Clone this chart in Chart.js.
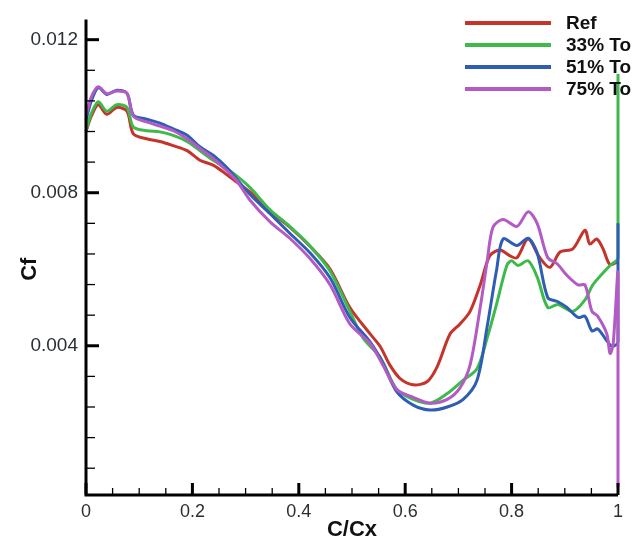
<!DOCTYPE html>
<html>
<head>
<meta charset="utf-8">
<script src="https://cdn.jsdelivr.net/npm/chart.js@4/dist/chart.umd.min.js"></script>
<style>
html,body{margin:0;padding:0;background:#fff;}
#wrap{width:637px;height:545px;}
</style>
</head>
<body>
<div id="wrap"><canvas id="c" width="637" height="545"></canvas></div>
<script>
// ---- data ----
const seriesLabels = ["Ref", "33% To", "51% To", "75% To"];
const seriesColors = ["#c4342b", "#3dba4b", "#2e5db3", "#b35ac4"];

const refX = [0, 0.01, 0.023, 0.039, 0.058, 0.077, 0.089, 0.114, 0.139, 0.164, 0.19, 0.214, 0.239, 0.265, 0.284, 0.31, 0.346, 0.383, 0.421, 0.459, 0.496, 0.534, 0.553, 0.571, 0.59, 0.615, 0.641, 0.66, 0.684, 0.703, 0.722, 0.741, 0.759, 0.778, 0.797, 0.81, 0.831, 0.853, 0.872, 0.891, 0.915, 0.938, 0.947, 0.96, 0.972, 0.985, 1];
const refY = [0.0096, 0.0100, 0.0103, 0.01005, 0.01023, 0.01013, 0.00954, 0.00941, 0.00934, 0.00923, 0.0091, 0.00885, 0.00872, 0.00847, 0.00827, 0.0080, 0.0075, 0.0071, 0.0066, 0.0060, 0.0050, 0.00431, 0.00398, 0.0035, 0.00315, 0.00298, 0.00306, 0.00345, 0.0043, 0.00457, 0.0049, 0.00559, 0.00635, 0.0065, 0.00635, 0.0063, 0.00679, 0.0063, 0.00605, 0.00645, 0.00653, 0.00702, 0.00666, 0.00679, 0.00653, 0.00612, 0.0062];

const to33X = [0, 0.008, 0.023, 0.039, 0.058, 0.077, 0.089, 0.114, 0.139, 0.164, 0.19, 0.214, 0.239, 0.271, 0.308, 0.346, 0.383, 0.421, 0.459, 0.496, 0.521, 0.553, 0.584, 0.615, 0.647, 0.679, 0.709, 0.735, 0.754, 0.772, 0.791, 0.8, 0.812, 0.831, 0.848, 0.868, 0.887, 0.915, 0.938, 0.953, 0.985, 1, 1];
const to33Y = [0.0096, 0.0100, 0.01038, 0.01013, 0.0103, 0.01023, 0.00972, 0.00962, 0.00959, 0.0095, 0.00934, 0.0091, 0.00885, 0.00857, 0.00814, 0.00755, 0.00712, 0.00661, 0.00595, 0.0049, 0.0042, 0.0037, 0.00286, 0.0026, 0.0025, 0.00275, 0.0031, 0.0034, 0.0042, 0.0051, 0.0061, 0.00622, 0.0061, 0.00622, 0.0058, 0.0050, 0.00508, 0.0049, 0.0052, 0.0056, 0.0061, 0.0063, 0.0111];

const to51X = [0, 0.01, 0.023, 0.039, 0.058, 0.077, 0.089, 0.114, 0.139, 0.164, 0.19, 0.214, 0.239, 0.265, 0.308, 0.346, 0.383, 0.421, 0.459, 0.496, 0.534, 0.558, 0.584, 0.615, 0.647, 0.679, 0.709, 0.735, 0.754, 0.772, 0.784, 0.81, 0.831, 0.848, 0.868, 0.887, 0.904, 0.925, 0.938, 0.951, 0.962, 0.979, 0.989, 1, 1];
const to51Y = [0.0099, 0.0104, 0.01075, 0.01057, 0.01068, 0.0106, 0.01003, 0.00992, 0.00982, 0.00967, 0.0095, 0.0092, 0.00898, 0.00865, 0.00796, 0.00745, 0.00694, 0.00643, 0.00577, 0.00474, 0.0041, 0.00355, 0.0028, 0.00245, 0.00232, 0.0024, 0.0026, 0.0031, 0.0045, 0.0060, 0.00679, 0.00662, 0.00681, 0.00643, 0.00526, 0.00515, 0.0050, 0.00474, 0.00477, 0.00439, 0.00444, 0.00413, 0.00398, 0.0041, 0.0072];

const to75X = [0, 0.01, 0.023, 0.039, 0.058, 0.077, 0.089, 0.114, 0.139, 0.164, 0.19, 0.214, 0.239, 0.265, 0.284, 0.308, 0.346, 0.383, 0.421, 0.459, 0.496, 0.534, 0.558, 0.584, 0.615, 0.647, 0.679, 0.703, 0.722, 0.741, 0.754, 0.765, 0.784, 0.81, 0.831, 0.848, 0.868, 0.885, 0.904, 0.925, 0.938, 0.951, 0.962, 0.979, 0.985, 0.991, 1, 1];
const to75Y = [0.0100, 0.0105, 0.01077, 0.01059, 0.01066, 0.0106, 0.0100, 0.00985, 0.00974, 0.00962, 0.00941, 0.00916, 0.0089, 0.00857, 0.0083, 0.00781, 0.00724, 0.00681, 0.00628, 0.00559, 0.00457, 0.00406, 0.0035, 0.00286, 0.00265, 0.0025, 0.0026, 0.0029, 0.0035, 0.0050, 0.0062, 0.0071, 0.0073, 0.00712, 0.0075, 0.0072, 0.0063, 0.00615, 0.00584, 0.00559, 0.00559, 0.0049, 0.00477, 0.00431, 0.0038, 0.00406, 0.0059, 0.0003];

const xTickValues = [0, 0.2, 0.4, 0.6, 0.8, 1];
const yTickValues = [0.004, 0.008, 0.012];
const xTitle = "C/Cx";
const yTitle = "Cf";

// ---- build ----
const seriesX = [refX, to33X, to51X, to75X];
const seriesY = [refY, to33Y, to51Y, to75Y];
const FONT = '"Liberation Sans", Arial, Helvetica, sans-serif';

const datasets = seriesLabels.map((lab, i) => ({
  label: lab,
  data: seriesX[i].map((x, j) => ({x: x, y: seriesY[i][j]})),
  borderColor: seriesColors[i],
  backgroundColor: seriesColors[i],
  borderWidth: 3,
  pointRadius: 0,
  tension: 0.3,
  fill: false,
  clip: false,
  order: seriesLabels.length - i
}));

const axesPlugin = {
  id: 'axesPlugin',
  afterDatasetsDraw(chart) {
    const ctx = chart.ctx;
    const xs = chart.scales.x, ys = chart.scales.y;
    const ca = chart.chartArea;
    ctx.save();
    ctx.strokeStyle = '#000';
    ctx.lineCap = 'butt';
    // axis lines
    ctx.lineWidth = 3;
    ctx.beginPath();
    ctx.moveTo(ca.left, ca.top);
    ctx.lineTo(ca.left, ca.bottom);
    ctx.lineTo(ca.right, ca.bottom);
    ctx.stroke();
    // x ticks
    for (let i = 0; i <= 20; i++) {
      const v = i * 0.05;
      const major = i % 4 === 0;
      const px = xs.getPixelForValue(v);
      ctx.lineWidth = major ? 3 : 1.3;
      ctx.beginPath();
      ctx.moveTo(px, ca.bottom);
      ctx.lineTo(px, ca.bottom - (major ? 12 : 7));
      ctx.stroke();
    }
    // y ticks
    for (let i = 1; i <= 15; i++) {
      const v = i * 0.0008;
      const major = i % 5 === 0;
      const py = ys.getPixelForValue(v);
      ctx.lineWidth = major ? 3 : 1.3;
      ctx.beginPath();
      ctx.moveTo(ca.left, py);
      ctx.lineTo(ca.left + (major ? 13 : 9), py);
      ctx.stroke();
    }
    // axis titles
    ctx.fillStyle = '#111';
    ctx.font = 'bold 22px ' + FONT;
    ctx.textAlign = 'center';
    ctx.textBaseline = 'middle';
    ctx.fillText(xTitle, (ca.left + ca.right) / 2, 530);
    ctx.save();
    ctx.translate(30, (ca.top + ca.bottom) / 2 + 12);
    ctx.rotate(-Math.PI / 2);
    ctx.fillText(yTitle, 0, 0);
    ctx.restore();
    // legend
    ctx.font = 'bold 19px ' + FONT;
    ctx.textAlign = 'left';
    const ly = [23, 45, 67, 89];
    seriesLabels.forEach((lab, i) => {
      ctx.strokeStyle = seriesColors[i];
      ctx.lineWidth = 4;
      ctx.beginPath();
      ctx.moveTo(465, ly[i]);
      ctx.lineTo(551, ly[i]);
      ctx.stroke();
      ctx.fillStyle = '#111';
      ctx.fillText(lab, 566, ly[i] + 1);
    });
    ctx.restore();
  }
};

new Chart(document.getElementById('c'), {
  type: 'line',
  data: { datasets: datasets },
  options: {
    responsive: false,
    animation: false,
    layout: { padding: { top: 8, right: 19, left: 0, bottom: 0 } },
    plugins: { legend: { display: false }, tooltip: { enabled: false } },
    scales: {
      x: {
        type: 'linear', min: 0, max: 1,
        afterBuildTicks: s => { s.ticks = xTickValues.map(v => ({ value: v })); },
        afterFit: s => { s.height = 50; },
        grid: { display: false, drawTicks: false },
        border: { display: false },
        ticks: {
          padding: 6, maxRotation: 0, autoSkip: false,
          color: '#2a2f33', font: { size: 18, family: FONT },
          callback: v => String(v)
        }
      },
      y: {
        type: 'linear', min: 0.0001, max: 0.01253,
        afterBuildTicks: s => { s.ticks = yTickValues.map(v => ({ value: v })); },
        afterFit: s => { s.width = 86; },
        grid: { display: false, drawTicks: false },
        border: { display: false },
        ticks: {
          padding: 8, autoSkip: false,
          color: '#2a2f33', font: { size: 19, family: FONT },
          callback: v => v.toFixed(3)
        }
      }
    }
  },
  plugins: [axesPlugin]
});
</script>
</body>
</html>
